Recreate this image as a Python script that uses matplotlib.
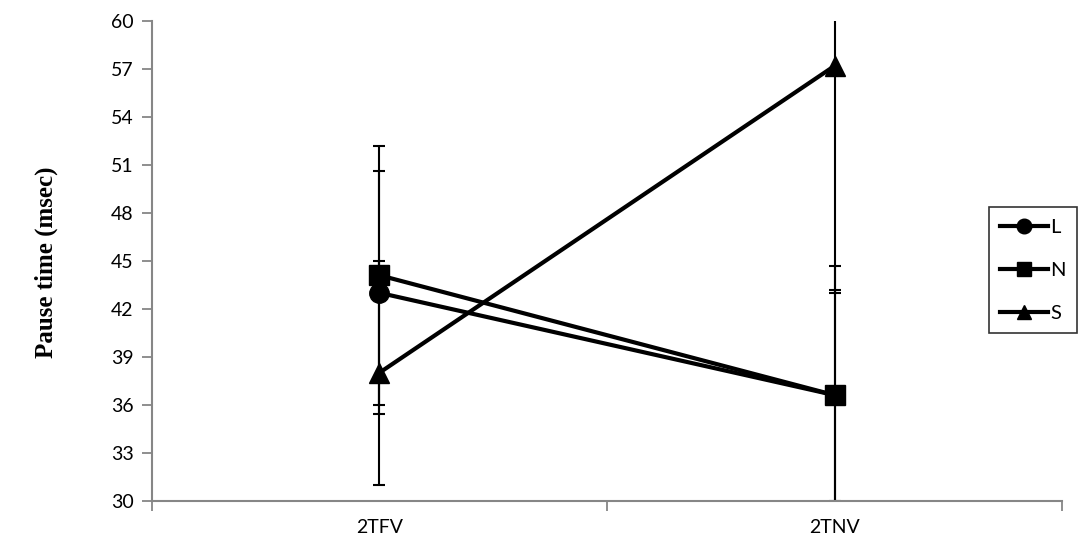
import matplotlib.pyplot as plt
import numpy as np

#-----------------Data----------------
conditions = ['2TFV', '2TNV']
series_names = ['L', 'N', 'S']
series_markers = ['o', 's', '^']

L_mean = [43.0, 36.6]
N_mean = [44.1, 36.6]
S_mean = [38.0, 57.2]

L_err = [7.6, 8.1]
N_err = [8.1, 6.6]
S_err = [7.0, 14.2]

y_ticks = [30, 33, 36, 39, 42, 45, 48, 51, 54, 57, 60]
#-------------------------------------

means = [L_mean, N_mean, S_mean]
errs = [L_err, N_err, S_err]
x = np.arange(len(conditions))

fig = plt.figure(figsize=(10.84, 5.46), dpi=100)
ax = fig.add_axes([0.140, 0.083, 0.840, 0.8785])

handles = []
for name, mk, m, e in zip(series_names, series_markers, means, errs):
    ax.errorbar(x, m, yerr=e, fmt='none', ecolor='black', elinewidth=1.5,
                capsize=4, capthick=1.5, zorder=2)
    h, = ax.plot(x, m, color='black', lw=3, marker=mk, markersize=14,
                 zorder=3, label=name)
    handles.append(h)

#-----------axes styling-------------
grey = '#868686'
ax.set_xlim(-0.5, 1.5)
ax.set_ylim(30, 60)
ax.set_yticks(y_ticks)
ax.set_xticks([-0.5, 0.5, 1.5])
ax.set_xticklabels([])
ax.set_xticks(x, minor=True)
ax.set_xticklabels(conditions, minor=True)
ax.tick_params(axis='x', which='minor', length=0, pad=13)
ax.tick_params(axis='y', pad=6)
ax.tick_params(axis='both', which='major', direction='out', length=7,
               width=1.3, color=grey)
ax.tick_params(axis='both', which='both', labelsize=14)
for lab in ax.get_xticklabels(minor=True) + ax.get_yticklabels():
    lab.set_fontfamily('Lato')

for s in ['top', 'right']:
    ax.spines[s].set_visible(False)
for s in ['left', 'bottom']:
    ax.spines[s].set_color(grey)
    ax.spines[s].set_linewidth(1.5)

fig.text(0.043, 0.52, 'Pause time (msec)', rotation=90, ha='center',
         va='center', fontsize=18, fontweight='bold',
         fontfamily='Liberation Serif')

leg = fig.legend(handles=handles, loc='upper left',
                 bbox_to_anchor=(0.912, 0.620), frameon=True, fancybox=False,
                 edgecolor='black', handlelength=2.4, handletextpad=0.1,
                 labelspacing=1.3, borderpad=0.55, markerscale=0.75,
                 borderaxespad=0, prop={'family': 'Lato', 'size': 14.5})
leg.get_frame().set_linewidth(1.2)

fig.savefig('out.png', dpi=100)
